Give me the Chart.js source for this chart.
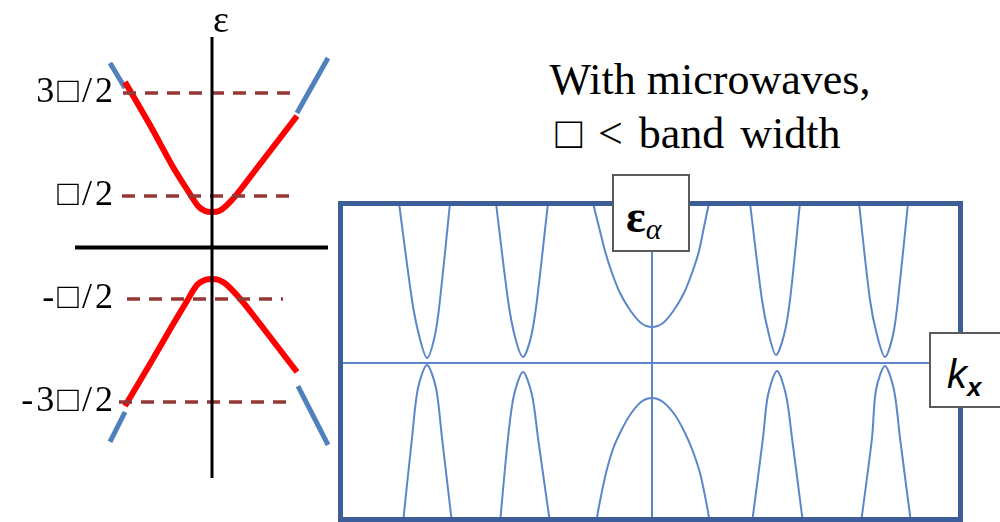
<!DOCTYPE html>
<html>
<head>
<meta charset="utf-8">
<script src="https://cdn.jsdelivr.net/npm/chart.js@4.4.1/dist/chart.umd.min.js"></script>
<style>
  html, body { margin: 0; padding: 0; background: #fff; overflow: hidden; }
  #stage { position: relative; width: 1000px; height: 522px; }
  canvas { position: absolute; }
  #bands { left: 0; top: 0; }
  #floquet { left: 338px; top: 201px; }
  .title { position: absolute; width: 400px; text-align: center; font: 44px "Liberation Serif", serif; line-height: 44px; color: #000; white-space: nowrap; }
  .tag { position: absolute; background: #fff; border: 2px solid #5a5a5a; box-sizing: border-box; }
  .tag div { position: absolute; white-space: nowrap; color: #000; }
</style>
</head>
<body>
<div id="stage">
  <canvas id="bands" width="340" height="522"></canvas>
  <canvas id="floquet" width="625" height="321"></canvas>
  <div class="title" style="left:510px;top:58px">With microwaves,</div>
  <div class="title" style="left:498px;top:112px;word-spacing:5px">□ &lt; band width</div>
  <div class="tag" style="left:612px;top:174px;width:78px;height:78px">
    <div style="left:12px;top:18px;font:bold 46px 'Liberation Serif';line-height:46px">ε<span style="font:italic 30px 'Liberation Serif';vertical-align:-7px">α</span></div>
  </div>
  <div class="tag" style="left:929px;top:332px;width:80px;height:76px">
    <div style="left:16px;top:20px;font:italic 40px 'Liberation Sans';line-height:40px">k<span style="font:italic bold 26px 'Liberation Sans';vertical-align:-8px">x</span></div>
  </div>
</div>
<script>
// ---- left panel: bands without driving, energies in units of the photon energy ----
const levelValues = [1.5, 0.5, -0.5, -1.5];
const levelLabels = ['3□/2', '□/2', '-□/2', '-3□/2'];
const levelStartK = [-0.89, -0.90, -0.85, -0.93];
const levelEndK = [0.81, 0.81, 0.71, 0.78];

const conductionBand = [[-0.87, 1.607], [-0.62, 1.189], [-0.39, 0.782], [-0.22, 0.519], [-0.14, 0.403], [-0.07, 0.354], [0, 0.345],
  [0.07, 0.354], [0.14, 0.403], [0.25, 0.519], [0.45, 0.772], [0.65, 1.024], [0.85, 1.277]];
const valenceBand = [[-0.87, -1.539], [-0.62, -1.131], [-0.40, -0.762], [-0.25, -0.519], [-0.15, -0.364], [-0.07, -0.316], [0, -0.306],
  [0.07, -0.316], [0.15, -0.364], [0.30, -0.519], [0.45, -0.704], [0.65, -0.956], [0.85, -1.209]];

const outerUpLeft = [[-1.02, 1.791], [-0.87, 1.549]];
const outerUpRight = [[0.85, 1.306], [1.16, 1.840]];
const outerDownLeft = [[-1.02, -1.888], [-0.87, -1.597]];
const outerDownRight = [[0.86, -1.345], [1.16, -1.917]];

const energyAxis = [[0, 2.044], [0, -2.238]];
const momentumAxis = [[-1.37, 0], [1.16, 0]];

// ---- right panel: quasi-energy replicas ----
const kxAxis = [[-3.14, 0], [2.78, 0]];
const epsAxis = [[0, 1.11], [0, -1.60]];

const replica1Up = [[-2.53, 1.60], [-2.40, 0.63], [-2.33, 0.28], [-2.25, 0.05], [-2.17, 0.28], [-2.12, 0.63], [-2.02, 1.60]];
const replica1Down = [[-2.49, -1.60], [-2.40, -0.75], [-2.34, -0.25], [-2.25, -0.02], [-2.16, -0.25], [-2.10, -0.75], [-2.00, -1.60]];
const replica2Up = [[-1.56, 1.60], [-1.44, 0.63], [-1.37, 0.26], [-1.29, 0.06], [-1.21, 0.26], [-1.15, 0.63], [-1.04, 1.60]];
const replica2Down = [[-1.52, -1.60], [-1.44, -0.75], [-1.38, -0.32], [-1.29, -0.09], [-1.20, -0.32], [-1.14, -0.75], [-1.02, -1.60]];
const centerUp = [[-0.59, 1.60], [-0.53, 1.36], [-0.47, 1.12], [-0.40, 0.90], [-0.32, 0.70], [-0.22, 0.53], [-0.11, 0.40], [0, 0.36],
  [0.11, 0.40], [0.22, 0.53], [0.32, 0.70], [0.40, 0.90], [0.47, 1.12], [0.52, 1.36], [0.57, 1.60]];
const centerDown = [[-0.56, -1.60], [-0.52, -1.38], [-0.46, -1.10], [-0.39, -0.86], [-0.31, -0.68], [-0.22, -0.52], [-0.11, -0.39], [0, -0.35],
  [0.11, -0.39], [0.23, -0.52], [0.32, -0.68], [0.40, -0.86], [0.48, -1.10], [0.54, -1.38], [0.58, -1.60]];
const replica4Up = [[0.98, 1.60], [1.10, 0.63], [1.17, 0.28], [1.24, 0.08], [1.32, 0.28], [1.38, 0.63], [1.48, 1.60]];
const replica4Down = [[1.00, -1.60], [1.11, -0.75], [1.16, -0.32], [1.25, -0.08], [1.34, -0.32], [1.40, -0.75], [1.51, -1.60]];
const replica5Up = [[2.07, 1.60], [2.18, 0.63], [2.25, 0.28], [2.33, 0.06], [2.41, 0.28], [2.46, 0.63], [2.56, 1.60]];
const replica5Down = [[2.09, -1.60], [2.20, -0.75], [2.24, -0.27], [2.33, -0.03], [2.42, -0.27], [2.48, -0.75], [2.59, -1.60]];

function curve(points, color, width, extra) {
  return Object.assign({
    data: points.map(p => ({ x: p[0], y: p[1] })),
    showLine: true,
    borderColor: color,
    borderWidth: width,
    pointRadius: 0,
    fill: false,
    clip: false,
    tension: 0.3
  }, extra || {});
}

function straight(points, color, width, extra) {
  return curve(points, color, width, Object.assign({ tension: 0 }, extra || {}));
}

function baseOptions(xMin, xMax, yMin, yMax) {
  return {
    animation: false,
    responsive: false,
    devicePixelRatio: 1,
    layout: { padding: 0 },
    plugins: { legend: { display: false }, tooltip: { enabled: false } },
    scales: {
      x: { type: 'linear', display: false, min: xMin, max: xMax },
      y: { type: 'linear', display: false, min: yMin, max: yMax }
    }
  };
}

// level labels and the energy axis title
const levelText = {
  id: 'levelText',
  afterDatasetsDraw(chart) {
    const { ctx, scales: { x, y } } = chart;
    ctx.save();
    ctx.fillStyle = '#000';
    ctx.font = '36px "Liberation Serif", serif';
    ctx.textAlign = 'right';
    ctx.letterSpacing = '3px';
    levelValues.forEach((v, i) => {
      ctx.fillText(levelLabels[i], x.getPixelForValue(-0.96), y.getPixelForValue(v) + 9);
    });
    ctx.letterSpacing = '0px';
    ctx.textAlign = 'center';
    ctx.font = '38px "Liberation Serif", serif';
    ctx.fillText('ε', x.getPixelForValue(0.09), y.getPixelForValue(2.044) - 5);
    ctx.restore();
  }
};

const levelColor = '#953735';
const levelSets = levelValues.map((v, i) =>
  straight([[levelStartK[i], v], [levelEndK[i], v]], levelColor, 3.5, { borderDash: [13, 9] })
);

// datasets listed first are drawn on top
new Chart(document.getElementById('bands'), {
  type: 'scatter',
  data: {
    datasets: [
      straight(energyAxis, '#000', 3),
      straight(momentumAxis, '#000', 4),
      ...levelSets,
      curve(conductionBand, '#ff0000', 6),
      curve(valenceBand, '#ff0000', 6),
      straight(outerUpLeft, '#4f81bd', 5),
      straight(outerUpRight, '#4f81bd', 5),
      straight(outerDownLeft, '#4f81bd', 5),
      straight(outerDownRight, '#4f81bd', 5)
    ]
  },
  options: baseOptions(-2.12, 1.28, -2.665, 2.403),
  plugins: [levelText]
});

// outer box of the quasi-energy plot
const frame = {
  id: 'frame',
  afterDatasetsDraw(chart) {
    const { ctx, chartArea: a } = chart;
    ctx.save();
    ctx.strokeStyle = '#3d5d99';
    ctx.lineWidth = 5;
    ctx.strokeRect(a.left + 2.5, a.top + 2.5, a.width - 5, a.height - 5);
    ctx.restore();
  }
};

const replicaColor = '#5b87c8';
new Chart(document.getElementById('floquet'), {
  type: 'scatter',
  data: {
    datasets: [
      straight(kxAxis, replicaColor, 2),
      straight(epsAxis, replicaColor, 2),
      curve(replica1Up, replicaColor, 2),
      curve(replica1Down, replicaColor, 2),
      curve(replica2Up, replicaColor, 2),
      curve(replica2Down, replicaColor, 2),
      curve(centerUp, replicaColor, 2),
      curve(centerDown, replicaColor, 2),
      curve(replica4Up, replicaColor, 2),
      curve(replica4Down, replicaColor, 2),
      curve(replica5Up, replicaColor, 2),
      curve(replica5Down, replicaColor, 2)
    ]
  },
  options: baseOptions(-3.14, 3.11, -1.59, 1.62),
  plugins: [frame]
});
</script>
</body>
</html>
